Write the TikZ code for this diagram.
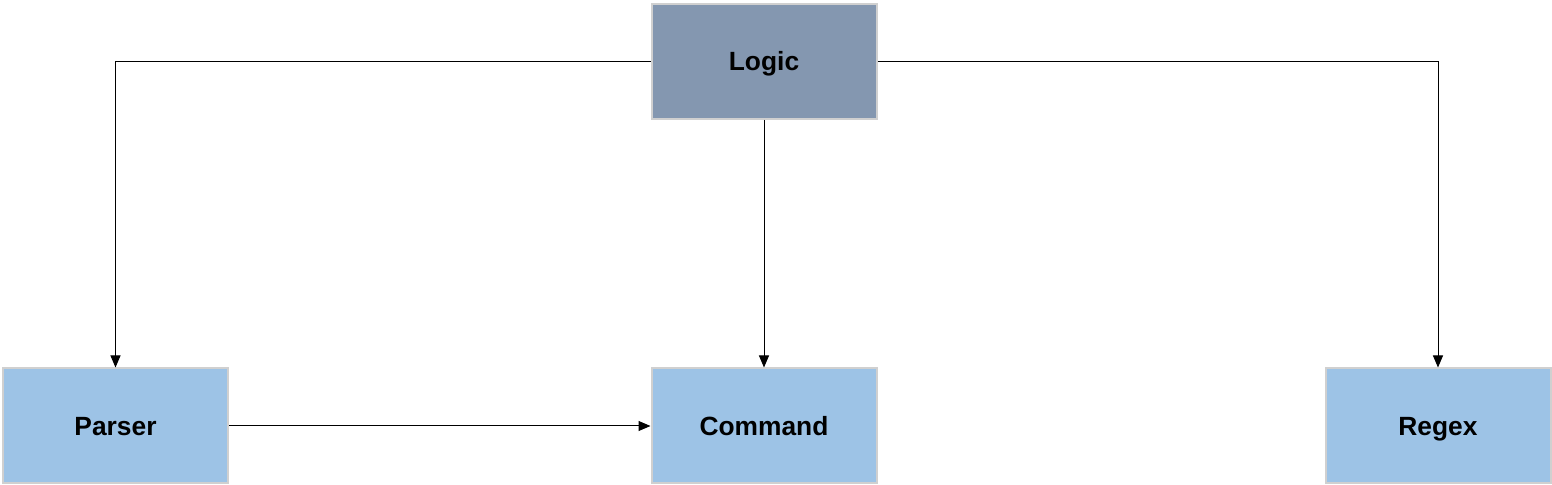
\documentclass[tikz,border=0pt]{standalone}
\usepackage{fontspec}
\setmainfont{Liberation Sans}
\usetikzlibrary{arrows.meta,positioning}

\definecolor{logicfill}{HTML}{8497B0}
\definecolor{modfill}{HTML}{9DC3E6}
\definecolor{boxline}{HTML}{D0D0D0}

\begin{document}
\begin{tikzpicture}[on grid,auto,
    >={Triangle[length=0.12cm,width=0.1cm]},
    line width=0.01cm]
       \tikzstyle{every node}=[font=\fontsize{7.5}{9}\selectfont\bfseries]
       \tikzstyle{module}=[draw=boxline,line width=0.02cm,fill=modfill,
           minimum width=2.25cm,minimum height=1.15cm,
           text height=5.4pt,text depth=0pt]
       \useasboundingbox (0,0) rectangle (15.52,4.85);

       \node[module,fill=logicfill] (logic)   at (7.64,4.235) {Logic};
       \node[module]                (command) [below=3.645cm of logic] {Command};
       \node[module]                (parser)  [left=6.485cm of command] {Parser};
       \node[module]                (regex)   [right=6.74cm of command] {Regex};

       \draw[->] (logic.west) -| (parser.north);
       \draw[->] (logic.south) -- (command.north);
       \draw[->] (logic.east) -| (regex.north);
       \draw[->] (parser.east) -- (command.west);
     \end{tikzpicture}
\end{document}
